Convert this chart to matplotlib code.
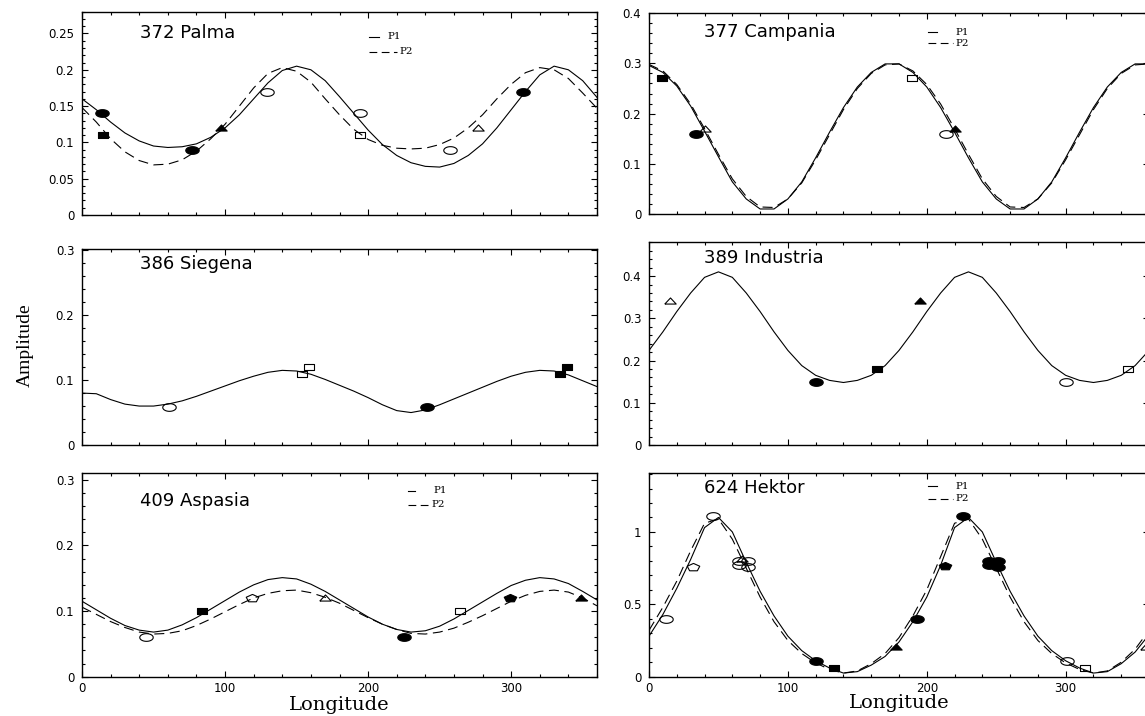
import numpy as np
import matplotlib
matplotlib.use("Agg")
import matplotlib.pyplot as plt
from matplotlib.ticker import MultipleLocator, FuncFormatter

# ---------------- data ----------------
lon = list(range(0, 361, 10))

palma_p1 = [0.160, 0.145, 0.128, 0.113, 0.102, 0.095, 0.093, 0.094, 0.098, 0.107,
            0.120, 0.138, 0.160, 0.182, 0.199, 0.205, 0.200, 0.185, 0.163, 0.140,
            0.117, 0.097, 0.082, 0.072, 0.067, 0.066, 0.071, 0.082, 0.098, 0.120,
            0.145, 0.170, 0.193, 0.205, 0.200, 0.185, 0.162]
palma_p2 = [0.148, 0.128, 0.105, 0.087, 0.075, 0.069, 0.070, 0.076, 0.088, 0.105,
            0.125, 0.150, 0.175, 0.195, 0.203, 0.198, 0.183, 0.160, 0.138, 0.118,
            0.104, 0.096, 0.092, 0.091, 0.092, 0.097, 0.106, 0.120, 0.138, 0.160,
            0.180, 0.196, 0.203, 0.200, 0.188, 0.168, 0.147]

campania_p1 = [0.296, 0.282, 0.255, 0.215, 0.165, 0.114, 0.064, 0.030, 0.010, 0.010,
               0.030, 0.064, 0.112, 0.163, 0.212, 0.253, 0.282, 0.299, 0.299, 0.282,
               0.253, 0.212, 0.163, 0.112, 0.064, 0.030, 0.010, 0.010, 0.030, 0.064,
               0.112, 0.163, 0.212, 0.253, 0.282, 0.299, 0.299]
campania_p2 = [0.298, 0.285, 0.258, 0.219, 0.170, 0.119, 0.070, 0.035, 0.014, 0.013,
               0.030, 0.062, 0.108, 0.158, 0.208, 0.250, 0.280, 0.297, 0.299, 0.285,
               0.258, 0.219, 0.170, 0.119, 0.070, 0.035, 0.014, 0.013, 0.030, 0.062,
               0.108, 0.158, 0.208, 0.250, 0.280, 0.297, 0.299]

siegena_p1 = [0.080, 0.079, 0.070, 0.063, 0.060, 0.060, 0.063, 0.068, 0.075, 0.083,
              0.091, 0.099, 0.106, 0.112, 0.115, 0.114, 0.109, 0.101, 0.092, 0.083,
              0.073, 0.062, 0.053, 0.050, 0.054, 0.062, 0.071, 0.080, 0.089, 0.098,
              0.106, 0.112, 0.115, 0.114, 0.108, 0.099, 0.090]

industria_p1 = [0.224, 0.268, 0.316, 0.360, 0.397, 0.410, 0.397, 0.360, 0.316, 0.268,
                0.224, 0.188, 0.165, 0.153, 0.148, 0.153, 0.165, 0.188, 0.224, 0.268,
                0.316, 0.360, 0.397, 0.410, 0.397, 0.360, 0.316, 0.268, 0.224, 0.188,
                0.165, 0.153, 0.148, 0.153, 0.165, 0.188, 0.224]

aspasia_p1 = [0.115, 0.102, 0.089, 0.078, 0.071, 0.068, 0.071, 0.079, 0.090, 0.103,
              0.116, 0.129, 0.140, 0.148, 0.151, 0.149, 0.141, 0.130, 0.117, 0.104,
              0.091, 0.080, 0.072, 0.068, 0.070, 0.077, 0.088, 0.101, 0.114, 0.127,
              0.139, 0.147, 0.151, 0.149, 0.142, 0.130, 0.117]
aspasia_p2 = [0.106, 0.095, 0.084, 0.075, 0.068, 0.065, 0.066, 0.070, 0.078, 0.088,
              0.099, 0.110, 0.120, 0.127, 0.131, 0.132, 0.128, 0.121, 0.112, 0.101,
              0.090, 0.080, 0.072, 0.066, 0.065, 0.068, 0.074, 0.083, 0.093, 0.104,
              0.115, 0.124, 0.130, 0.132, 0.129, 0.120, 0.108]

hektor_p1 = [0.28, 0.43, 0.61, 0.81, 1.03, 1.10, 1.00, 0.79, 0.59, 0.42,
             0.28, 0.18, 0.11, 0.06, 0.025, 0.035, 0.08, 0.14, 0.24, 0.38,
             0.55, 0.77, 1.03, 1.10, 1.00, 0.79, 0.59, 0.42, 0.28, 0.18,
             0.11, 0.06, 0.025, 0.035, 0.09, 0.17, 0.29]
hektor_p2 = [0.32, 0.48, 0.66, 0.87, 1.06, 1.09, 0.95, 0.75, 0.55, 0.38,
             0.25, 0.16, 0.095, 0.05, 0.025, 0.04, 0.09, 0.16, 0.27, 0.42,
             0.60, 0.83, 1.06, 1.09, 0.95, 0.75, 0.55, 0.38, 0.25, 0.16,
             0.095, 0.05, 0.025, 0.04, 0.10, 0.19, 0.32]

# observed points: (longitude, amplitude, shape, filled)
palma_obs = [(14, 0.14, "o", True), (15, 0.11, "s", True), (77, 0.09, "o", True),
             (97, 0.12, "^", True), (129, 0.17, "o", False), (194, 0.14, "o", False),
             (194, 0.11, "s", False), (257, 0.09, "o", False), (277, 0.12, "^", False),
             (308, 0.17, "o", True)]
campania_obs = [(9, 0.27, "s", True), (34, 0.16, "o", True), (40, 0.17, "^", False),
                (189, 0.27, "s", False), (214, 0.16, "o", False), (220, 0.17, "^", True)]
siegena_obs = [(61, 0.058, "o", False), (154, 0.11, "s", False), (159, 0.12, "s", False),
               (241, 0.058, "o", True), (334, 0.11, "s", True), (339, 0.12, "s", True)]
industria_obs = [(15, 0.34, "^", False), (120, 0.15, "o", True), (164, 0.18, "s", True),
                 (195, 0.34, "^", True), (300, 0.15, "o", False), (345, 0.18, "s", False)]
aspasia_obs = [(45, 0.06, "o", False), (84, 0.10, "s", True), (119, 0.12, "p", False),
               (170, 0.12, "^", False), (225, 0.06, "o", True), (264, 0.10, "s", False),
               (299, 0.12, "p", True), (349, 0.12, "^", True)]
hektor_obs = [(12, 0.40, "o", False), (32, 0.76, "p", False), (46, 1.11, "o", False),
              (65, 0.80, "o", False), (71, 0.80, "o", False), (65, 0.77, "o", False),
              (71, 0.755, "o", False), (67, 0.81, "^", False),
              (120, 0.11, "o", True), (133, 0.06, "s", True), (178, 0.205, "^", True),
              (193, 0.40, "o", True), (213, 0.765, "p", True), (226, 1.11, "o", True),
              (245, 0.80, "o", True), (251, 0.80, "o", True), (245, 0.77, "o", True),
              (251, 0.755, "o", True), (301, 0.11, "o", False), (314, 0.06, "s", False),
              (358, 0.205, "^", False)]

# ---------------- styling ----------------
t = np.linspace(0, 2 * np.pi, 41)
SHAPES = {
    "o": (np.column_stack([np.cos(t), 0.57 * np.sin(t)]), 9.7),
    "s": (np.array([[-1, -0.55], [1, -0.55], [1, 0.55], [-1, 0.55], [-1, -0.55]]), 7.6),
    "^": (np.array([[-1, -0.45], [1, -0.45], [0, 0.62], [-1, -0.45]]), 8.2),
    "p": (np.column_stack([np.cos(np.radians(90 + 72 * np.arange(6))),
                           0.62 * np.sin(np.radians(90 + 72 * np.arange(6)))]), 9.0),
}

W, H = 1145, 716
fig = plt.figure(figsize=(W / 100, H / 100), dpi=100)


def fmt(v, _):
    return "%g" % round(v, 4)


def make_ax(box, ylim, major, minor, xlabels):
    l, tp, r, b = box
    ax = fig.add_axes([l / W, 1 - b / H, (r - l) / W, (b - tp) / H])
    ax.set_xlim(0, 360)
    ax.set_ylim(*ylim)
    ax.xaxis.set_major_locator(MultipleLocator(100))
    ax.xaxis.set_minor_locator(MultipleLocator(20))
    ax.yaxis.set_major_locator(MultipleLocator(major))
    ax.yaxis.set_minor_locator(MultipleLocator(minor))
    ax.yaxis.set_major_formatter(FuncFormatter(fmt))
    ax.xaxis.set_major_formatter(FuncFormatter(fmt))
    ax.tick_params(which="both", direction="in", top=True, right=True, width=0.8,
                   labelsize=8.5, labelbottom=xlabels)
    ax.tick_params(which="major", length=4.3)
    ax.tick_params(which="minor", length=2.4)
    ax.tick_params(axis="y", pad=5.5)
    ax.tick_params(axis="x", pad=4)
    for s in ax.spines.values():
        s.set_linewidth(1.0)
    return ax


def draw_obs(ax, obs):
    for x, y, m, filled in obs:
        verts, ms = SHAPES[m]
        ax.plot([x], [y], linestyle="none", marker=verts, markersize=ms,
                markerfacecolor="black" if filled else "none",
                markeredgecolor="black", markeredgewidth=0.8, clip_on=False, zorder=3)


def title(ax, text, x, y):
    ax.text(x, y, text, transform=ax.transAxes, ha="left", va="center",
            fontsize=13, family="DejaVu Sans")


def legend(ax, x0, y1, y2, seg1, seg2, tx1, tx2):
    ax.plot([x0, seg1], [y1, y1], color="black", lw=0.8, transform=ax.transAxes,
            clip_on=False)
    ax.plot([x0, seg2], [y2, y2], color="black", lw=0.8, dashes=(7, 4),
            transform=ax.transAxes, clip_on=False)
    ax.text(tx1, y1, "P1", transform=ax.transAxes, ha="left", va="center",
            fontsize=7.5, family="DejaVu Serif")
    ax.text(tx2, y2, "P2", transform=ax.transAxes, ha="left", va="center",
            fontsize=7.5, family="DejaVu Serif")


def curve(ax, vals, dashed=False):
    if dashed:
        ax.plot(lon, vals, color="black", lw=0.8, dashes=(9, 5))
    else:
        ax.plot(lon, vals, color="black", lw=0.8)


# 372 Palma
ax = make_ax((82, 11.7, 597, 215), (0, 0.28), 0.05, 0.01, False)
curve(ax, palma_p1)
curve(ax, palma_p2, True)
draw_obs(ax, palma_obs)
title(ax, "372 Palma", 0.113, 0.897)
legend(ax, 0.557, 0.877, 0.803, 0.577, 0.612, 0.594, 0.616)

# 377 Campania
ax = make_ax((649, 12.7, 1149, 214), (0, 0.401), 0.1, 0.02, False)
curve(ax, campania_p1)
curve(ax, campania_p2, True)
draw_obs(ax, campania_obs)
title(ax, "377 Campania", 0.11, 0.905)
legend(ax, 0.558, 0.903, 0.848, 0.576, 0.608, 0.612, 0.612)

# 386 Siegena
ax = make_ax((82, 249, 597, 445), (0, 0.302), 0.1, 0.02, False)
curve(ax, siegena_p1)
draw_obs(ax, siegena_obs)
title(ax, "386 Siegena", 0.113, 0.923)

# 389 Industria
ax = make_ax((649, 242.3, 1149, 445), (0, 0.48), 0.1, 0.02, False)
curve(ax, industria_p1)
draw_obs(ax, industria_obs)
title(ax, "389 Industria", 0.11, 0.922)

# 409 Aspasia
ax = make_ax((82, 473.3, 597, 676.7), (0, 0.31), 0.1, 0.02, True)
curve(ax, aspasia_p1)
curve(ax, aspasia_p2, True)
draw_obs(ax, aspasia_obs)
title(ax, "409 Aspasia", 0.113, 0.865)
legend(ax, 0.633, 0.914, 0.846, 0.647, 0.676, 0.683, 0.679)
ax.text(0.5, -0.139, "Longitude", transform=ax.transAxes, ha="center", va="center",
        fontsize=14, family="DejaVu Serif")

# 624 Hektor
ax = make_ax((649, 473.3, 1149, 676.7), (0, 1.405), 0.5, 0.1, True)
curve(ax, hektor_p1)
curve(ax, hektor_p2, True)
draw_obs(ax, hektor_obs)
title(ax, "624 Hektor", 0.11, 0.928)
legend(ax, 0.558, 0.936, 0.874, 0.576, 0.608, 0.612, 0.612)
ax.text(0.5, -0.13, "Longitude", transform=ax.transAxes, ha="center", va="center",
        fontsize=14, family="DejaVu Serif")

fig.text(25 / W, 1 - 345 / H, "Amplitude", rotation=90, ha="center", va="center",
         fontsize=14, family="Liberation Serif")

fig.savefig("out.png", dpi=100)
